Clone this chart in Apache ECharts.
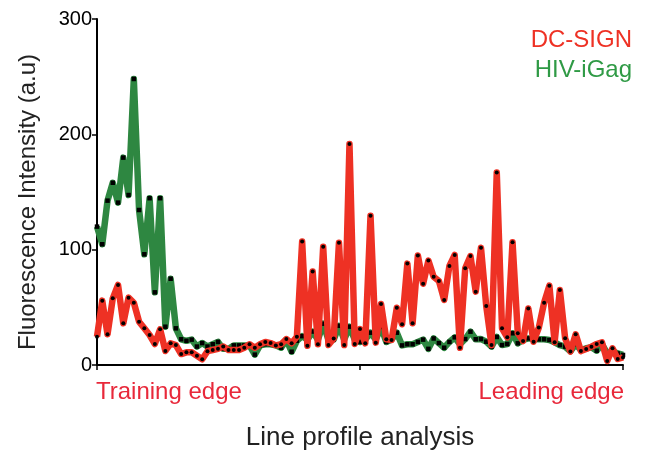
<!DOCTYPE html>
<html>
<head>
<meta charset="utf-8">
<script src="https://cdn.jsdelivr.net/npm/echarts@6/dist/echarts.min.js"></script>
<style>
  html, body { margin: 0; padding: 0; background: #fff; }
  #chart { width: 650px; height: 452px; }
</style>
</head>
<body>
<div id="chart"></div>
<script>
// line profile values (101 points)
var dcSign = [24.5, 55.8, 26.6, 57.8, 69.4, 36.2, 58.4, 54, 37.6, 31.8,
  26, 18.2, 31, 12.1, 18.8, 17.3, 9.5, 11, 11, 8,
  5, 12, 13, 14, 16, 13, 13, 13, 15, 18,
  15, 18, 20, 19, 17, 18, 22.5, 18.8, 24.5, 107,
  16.7, 81, 18, 102.6, 17.3, 23, 106, 17.3, 191.7, 18.2,
  31.2, 18.8, 129.5, 19.4, 52.9, 22.3, 21.7, 49.7, 35.3, 87.9,
  36.2, 95, 70.5, 90.5, 76.6, 72.9, 56.4, 85.9, 95.4, 15,
  83.8, 94.5, 63.6, 101.7, 51.2, 17.3, 167, 31.8, 24, 106.4,
  27.5, 20.8, 49, 20.2, 32.5, 54, 68.8, 19.7, 65, 23.1,
  11.6, 26.6, 12.1, 13.9, 15.9, 18.2, 19.7, 3.5, 14.5, 5.2,
  6.6];
var hivGag = [120, 104.7, 142.5, 158, 140.8, 179.8, 147.4, 248, 134.4, 96,
  144.6, 63, 144.6, 33.2, 74.8, 31.8, 22.3, 21, 22, 16,
  19, 16, 18, 20, 14, 14, 17, 17, 17, 17,
  9, 17, 18, 18, 17, 15, 22, 11.5, 21, 25,
  22, 29, 22, 35.8, 22, 22, 34, 22, 33.2, 22,
  20, 22, 28, 22, 33, 20, 22, 28, 17, 18,
  18, 20, 22, 14, 23, 19, 15, 20, 24, 18,
  22.5, 28.9, 22.3, 22.5, 20.2, 15.9, 24.3, 17.3, 18.2, 27.5,
  18.8, 21.7, 23.1, 22.5, 22.3, 22.3, 21.7, 19.7, 17.3, 15.9,
  12, 18, 13, 14.5, 15.3, 12.4, 18, 10, 12, 10,
  8.7];
var yTicks = [0, 100, 200, 300];
var seriesNames = ['DC-SIGN', 'HIV-iGag'];

var myChart = echarts.init(document.getElementById('chart'));

// pair index with value
function toPoints(arr) {
  var out = [];
  for (var i = 0; i < arr.length; i++) out.push([i, arr[i]]);
  return out;
}

var font = 'Liberation Sans, Arial, sans-serif';
var red = '#EE3124';
var green = '#2E8741';

var option = {
  animation: false,
  backgroundColor: '#fff',
  grid: { left: 97, right: 27, top: 19, bottom: 87, outerBoundsMode: 'none' },
  xAxis: {
    type: 'value',
    min: 0,
    max: dcSign.length - 1,
    interval: 50,
    axisLine: { lineStyle: { color: '#000', width: 2 } },
    axisTick: { length: 5, lineStyle: { color: '#000', width: 1.5 } },
    axisLabel: { show: false },
    splitLine: { show: false },
    name: 'Line profile analysis',
    nameLocation: 'middle',
    nameGap: 60,
    nameTextStyle: { color: '#222', fontSize: 26, fontFamily: font }
  },
  yAxis: {
    type: 'value',
    min: yTicks[0],
    max: yTicks[yTicks.length - 1],
    interval: 100,
    axisLine: { show: true, lineStyle: { color: '#000', width: 2 } },
    axisTick: { show: true, length: 5, lineStyle: { color: '#000', width: 1.5 } },
    axisLabel: { color: '#000', fontSize: 20, fontFamily: font, margin: 5 },
    splitLine: { show: false }
  },
  graphic: [
    { type: 'text', x: 28, y: 202, rotation: Math.PI / 2,
      style: { text: 'Fluorescence Intensity (a.u)', fill: '#222', font: '24px ' + font,
               align: 'center', verticalAlign: 'middle' } },
    { type: 'text', right: 18, top: 28, style: { text: seriesNames[0], fill: red, font: '24px ' + font } },
    { type: 'text', right: 18, top: 58, style: { text: seriesNames[1], fill: '#2F9A45', font: '24px ' + font } },
    { type: 'text', left: 96, top: 380, style: { text: 'Training edge', fill: '#E8283A', font: '24px ' + font } },
    { type: 'text', right: 26, top: 380, style: { text: 'Leading edge', fill: '#E8283A', font: '24px ' + font } }
  ],
  series: [
    {
      name: seriesNames[1],
      type: 'line',
      data: toPoints(hivGag),
      symbol: 'rect',
      symbolSize: 4.5,
      itemStyle: { color: '#000' },
      lineStyle: { color: green, width: 6.5, join: 'round' },
      z: 2
    },
    {
      name: seriesNames[0],
      type: 'line',
      data: toPoints(dcSign),
      symbol: 'circle',
      symbolSize: 4,
      itemStyle: { color: '#000' },
      lineStyle: { color: red, width: 6.5, join: 'round' },
      z: 3
    }
  ]
};

myChart.setOption(option);
</script>
</body>
</html>
